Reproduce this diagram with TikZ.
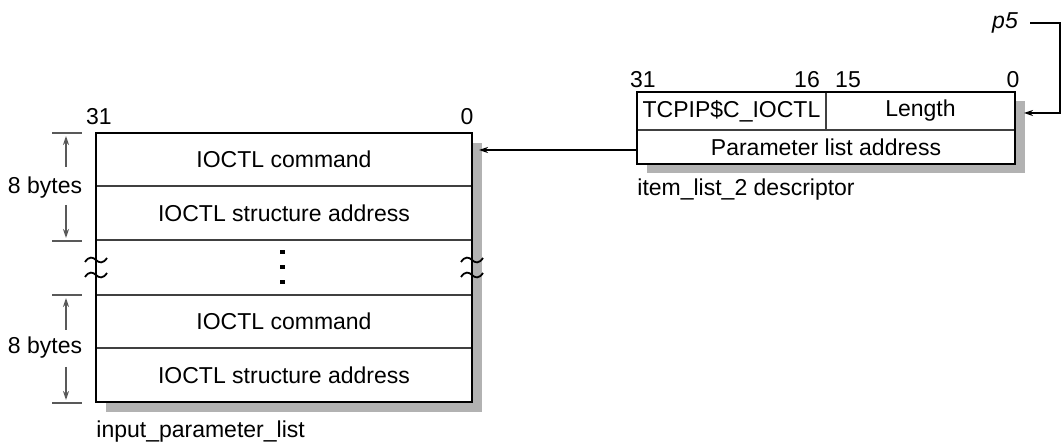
\documentclass[tikz,border=0pt]{standalone}
\usepackage{fontspec}
\setmainfont{Liberation Sans}
\usetikzlibrary{fit,arrows.meta}
\begin{document}
\begin{tikzpicture}[x=0.5pt,y=-0.5pt,
  every node/.style={font=\fontsize{11.5}{13}\selectfont, inner sep=2pt},
  every label/.style={font=\fontsize{11.5}{13}\selectfont, inner sep=0pt},
  cell/.style={draw=black!75, line width=0.7pt, fill=white, inner sep=0pt},
  outer/.style={draw=black, line width=1.1pt},
  shadow/.style={fill=black!30, draw=none},
  ptr/.style={draw=black, line width=0.6pt, -{Stealth[length=4.5pt,width=3pt]}},
  tick/.style={draw=black!65, line width=1pt},
  dim/.style={draw=black!65, line width=0.7pt, -{Stealth[length=4.5pt,width=3pt]}},
  brk/.style={draw=black, line width=0.9pt},
  lbl/.style={anchor=west, inner sep=0pt}]
\useasboundingbox (0,0) rectangle (1062,443);

% shadows
\fill[shadow] (106,143) rectangle (482,412);
\fill[shadow] (647,101) rectangle (1025,173);

% input parameter list
\node[cell, fit={(96,133)(472,186)}, label=center:IOCTL command] (c1) {};
\node[cell, fit={(96,186)(472,240)}, label=center:IOCTL structure address] (a1) {};
\node[cell, fit={(96,240)(472,295)}] (gap) {};
\node[cell, fit={(96,295)(472,348)}, label=center:IOCTL command] (c2) {};
\node[cell, fit={(96,348)(472,402)}, label=center:IOCTL structure address] (a2) {};
\draw[outer] (96,133) rectangle (472,402);

% vertical dots
\foreach \yy in {252,267,282} \fill (279.5,\yy-2.3) rectangle (284.5,\yy+2.3);

% break marks
\foreach \xx in {96,472} \foreach \yy in {260,275}
  \draw[brk] (\xx-11,\yy+2) .. controls (\xx-7,\yy-4) and (\xx-3,\yy-3) .. (\xx,\yy)
             .. controls (\xx+3,\yy+3) and (\xx+7,\yy+4) .. (\xx+11,\yy-2);

% bit labels
\node (l31) at (99,117) {31};
\node (l0) at (467,117) {0};

% dimension marks
\draw[tick] (52,133) -- (82,133);
\draw[tick] (52,241) -- (82,241);
\node (d1) at (45,188) {8 bytes};
\draw[dim] (66,167) -- (66,136);
\draw[dim] (66,205) -- (66,238);
\draw[tick] (52,295) -- (82,295);
\draw[tick] (52,403) -- (82,403);
\node (d2) at (45,348) {8 bytes};
\draw[dim] (66,330) -- (66,298);
\draw[dim] (66,367) -- (66,400);

\node[lbl] (inlbl) at (96,432) {input\_parameter\_list};

% item list descriptor
\node[cell, fit={(637,92)(826,130)}, label=center:TCPIP\$C\_IOCTL] (tcp) {};
\node[cell, fit={(826,92)(1015,130)}, label=center:Length] (len) {};
\node[cell, fit={(637,130)(1015,164)}, label=center:Parameter list address] (par) {};
\draw[outer] (637,92) rectangle (1015,164);

\node (r31) at (643,80) {31};
\node (r16) at (807,80) {16};
\node (r15) at (848,80) {15};
\node (r0) at (1013,80) {0};

\node[lbl] (desclbl) at (637,190) {item\_list\_2 descriptor};

% pointers
\coordinate (ptip) at (479,150);
\draw[ptr] (par.west |- ptip) -- (ptip);

\node[font=\fontsize{11.5}{13}\selectfont\itshape] (p5) at (1005,23) {p5};
\coordinate (pr) at (1060,23);
\coordinate (ptip2) at (1024,113);
\draw[ptr] ([xshift=4pt]p5.east) -- (pr) |- (ptip2);
\end{tikzpicture}
\end{document}
